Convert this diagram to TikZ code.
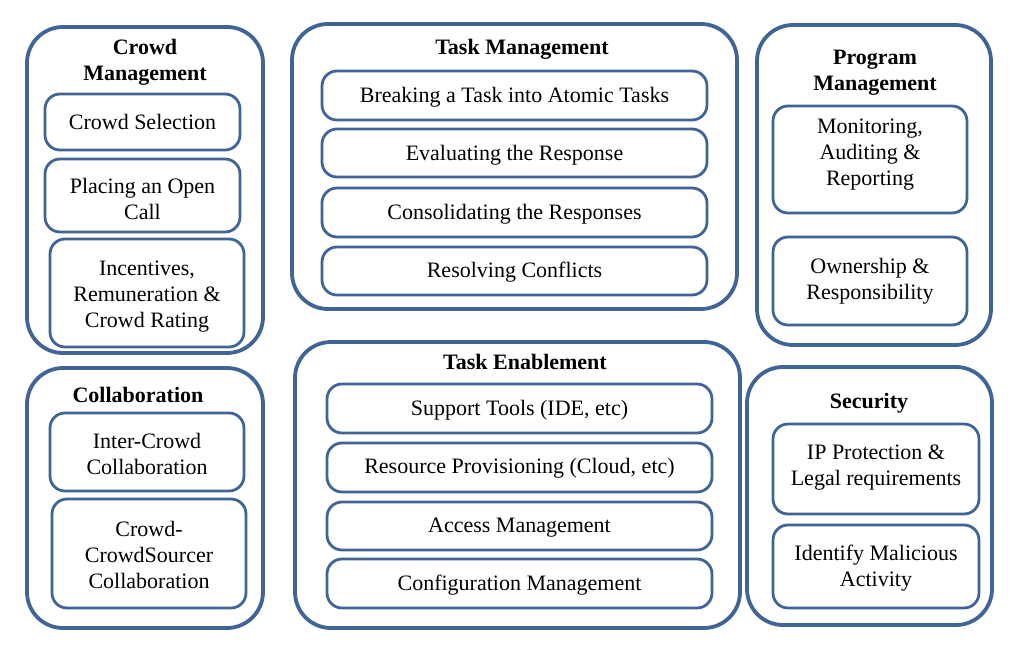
\documentclass[tikz,border=0pt]{standalone}
\usepackage{fontspec}
\setmainfont{Liberation Serif}
\definecolor{frameblue}{RGB}{65,100,150}
\newcommand{\obox}[5]{\node[outerbox, minimum width={(#4)-(#2)}, minimum height={(#5)-(#3)}] (#1) at ({((#2)+(#4))/2},{((#3)+(#5))/2}) {};}
% \ibox[text offset downwards]{name}{x1}{y1}{x2}{y2}{text}
\newcommand{\ibox}[7][2]{\node[innerbox, minimum width={(#5)-(#3)}, minimum height={(#6)-(#4)}] (#2) at ({((#3)+(#5))/2},{((#4)+(#6))/2}) {};
  \node[boxtext] (#2-t) at ([yshift={-(#1)*1pt}]#2.center) {#7};}
\begin{document}
\begin{tikzpicture}[x=1pt,y=-1pt,
  outerbox/.style={draw=frameblue, line width=3.8pt, rounded corners=36pt, inner sep=0pt},
  innerbox/.style={draw=frameblue, line width=2.8pt, rounded corners=15pt, inner sep=0pt},
  boxtext/.style={inner sep=0pt, align=center, font=\fontsize{22}{26}\selectfont},
  titletext/.style={inner sep=0pt, align=center, font=\fontsize{22}{26}\selectfont\bfseries}]
\useasboundingbox (0,0) rectangle (1023,655);
% outer frames
\obox{cm}{27}{27}{263}{353}
\obox{tm}{292}{24}{737}{309}
\obox{pm}{757}{25}{991}{345}
\obox{co}{27}{368}{263}{628}
\obox{te}{295}{342}{740}{628}
\obox{se}{747}{367}{992}{625}
% titles
\node[titletext] (cmt) at (145,62) {Crowd\\Management};
\node[titletext] (tmt) at (522,49) {Task Management};
\node[titletext] (pmt) at (875,73) {Program\\Management};
\node[titletext] (cot) at (138,395) {Collaboration};
\node[titletext] (tet) at (525,362) {Task Enablement};
\node[titletext] (set) at (869,403) {Security};
% crowd management
\ibox[0]{cs}{45}{94}{240}{150}{Crowd Selection}
\ibox[3]{po}{45}{159}{240}{232}{Placing an Open\\Call}
\ibox[4]{ir}{50}{239}{244}{347}{Incentives,\\Remuneration \&\\Crowd Rating}
% task management
\ibox{bt}{322}{71}{707}{120}{Breaking a Task into Atomic Tasks}
\ibox{er}{322}{129}{707}{177}{Evaluating the Response}
\ibox{cr}{322}{188}{707}{237}{Consolidating the Responses}
\ibox[1]{rc}{322}{247}{707}{295}{Resolving Conflicts}
% program management
\ibox[-5]{ma}{773}{106}{967}{213}{Monitoring,\\Auditing \&\\Reporting}
\ibox[0]{or}{773}{237}{967}{325}{Ownership \&\\Responsibility}
% collaboration
\ibox{ic}{50}{413}{244}{491}{Inter-Crowd\\Collaboration}
\ibox[1]{cc}{52}{499}{246}{608}{Crowd-\\CrowdSourcer\\Collaboration}
% task enablement
\ibox{st}{327}{384}{712}{433}{Support Tools (IDE, etc)}
\ibox[1]{rp}{327}{443}{712}{492}{Resource Provisioning (Cloud, etc)}
\ibox{am}{327}{502}{712}{550}{Access Management}
\ibox{cfm}{327}{559}{712}{608}{Configuration Management}
% security
\ibox[-1]{ip}{773}{424}{979}{514}{IP Protection \&\\Legal requirements}
\ibox{im}{773}{525}{979}{608}{Identify Malicious\\Activity}
\end{tikzpicture}
\end{document}
